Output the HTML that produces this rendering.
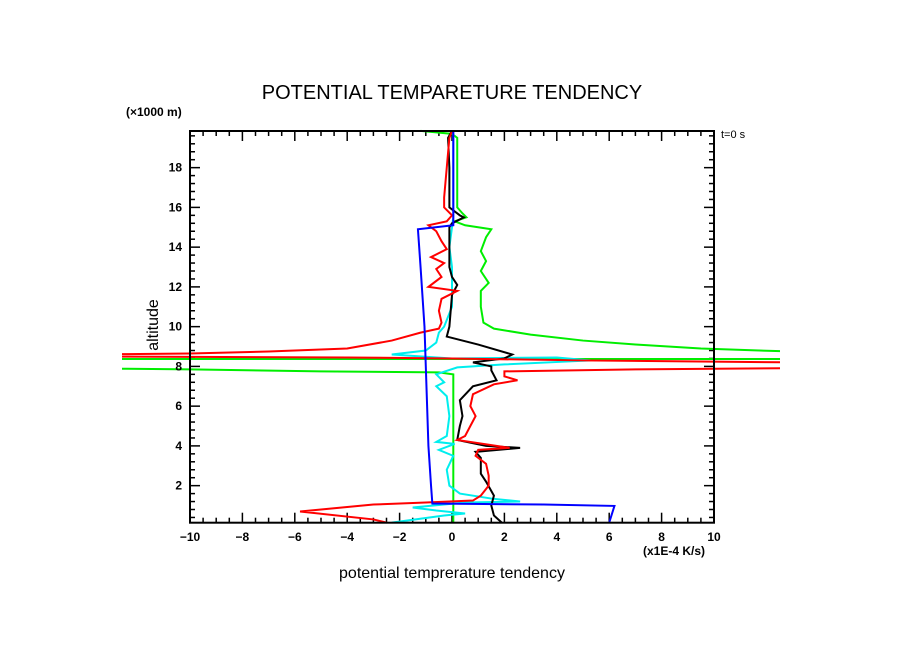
<!DOCTYPE html>
<html><head><meta charset="utf-8"><style>
html,body{margin:0;padding:0;background:#fff;}
svg{display:block;font-family:"Liberation Sans",sans-serif;}
</style></head><body>
<svg id="chart" width="904" height="654" viewBox="0 0 904 654" xmlns="http://www.w3.org/2000/svg">
<defs><clipPath id="clip"><rect x="122" y="0" width="658" height="654"/></clipPath></defs>
<text x="452" y="99" text-anchor="middle" font-size="20">POTENTIAL TEMPARETURE TENDENCY</text>
<text x="126" y="116" font-size="12" font-weight="bold">(×1000 m)</text>
<text x="721" y="138" font-size="11">t=0 s</text>
<text x="0" y="0" font-size="16" text-anchor="middle" transform="translate(158,325) rotate(-90)">altitude</text>
<text x="643" y="555" font-size="12" font-weight="bold">(x1E-4 K/s)</text>
<text x="452" y="578" text-anchor="middle" font-size="16">potential temprerature tendency</text>
<g id="ticks"></g>
<g id="series" clip-path="url(#clip)"></g>
<rect x="190" y="131" width="524" height="391.7" fill="none" stroke="#000" stroke-width="2"/>
<g id="labels"></g>
</svg>
<script>
const xTicks=[-10,-8,-6,-4,-2,0,2,4,6,8,10];
const yTicks=[2,4,6,8,10,12,14,16,18];
const blueX=[0.05,0.05,-1.3,-1.2,-1.05,-1.0,-0.95,-0.9,-0.8,-0.75,3.5,6.2,6.0];
const blueY=[19.85,15.1,14.9,13,10,8,6,4,2,1.1,1.05,0.98,0.14];
const greenX=[-1.2,0.0,0.2,0.2,0.4,0.55,0.1,0.5,1.5,1.3,1.1,1.3,1.1,1.4,1.1,1.1,1.2,1.6,3,5,7,9.5,14,14,-14,-14,-10,-5,-0.5,0.05,0.05];
const greenY=[19.85,19.7,19.5,16.0,15.7,15.5,15.3,15.1,14.9,14.5,13.8,13.3,12.8,12.2,11.8,11.0,10.2,9.9,9.6,9.3,9.1,8.9,8.7,8.37,8.37,7.9,7.85,7.75,7.7,7.6,0.14];
const redX=[0.0,-0.1,-0.2,-0.3,-0.3,0,-0.2,-0.9,-0.6,-0.4,-0.2,-0.8,-0.3,-0.6,-0.4,-0.9,0.2,-0.4,-0.5,-0.4,-0.5,-1.2,-2.3,-4,-7,-10,-14,-14,-4,0,5,14,14,7,2.0,2.0,2.5,1.6,0.8,0.7,0.9,0.7,0.5,0.2,2.2,1.0,0.9,1.3,1.4,1.4,1.1,0.8,-1,-3.0,-5.8,-3,-2.5];
const redY=[19.85,19.5,18,16.5,16,15.6,15.3,15.1,14.8,14.3,13.9,13.5,13.2,12.9,12.5,12.0,11.8,11.4,10.8,10.2,9.9,9.7,9.3,8.9,8.75,8.65,8.6,8.5,8.45,8.4,8.3,8.19,7.92,7.85,7.75,7.5,7.3,7.1,6.6,6.0,5.5,5.0,4.5,4.3,3.9,3.8,3.5,3.1,2.5,2.0,1.5,1.25,1.15,1.05,0.7,0.3,0.14];
const blackX=[0,-0.15,-0.1,-0.1,0.3,0.45,0.0,-0.1,-0.1,0,0.2,0.0,-0.1,-0.2,1,2.3,2.0,0.8,1.5,1.5,1.7,0.8,0.3,0.4,0.3,0.2,1.3,2.6,0.9,1.1,1.1,1.3,1.6,1.5,1.6,1.9];
const blackY=[19.85,19.5,18,16,15.6,15.5,15.2,15.0,13,12.5,12.1,11.6,10,9.5,9.1,8.6,8.4,8.2,8.0,7.8,7.3,7.0,6.3,5.5,5.0,4.3,4.0,3.9,3.7,3.4,2.6,2.2,1.5,1.0,0.5,0.14];
const cyanX=[0.05,0.05,0.0,-0.1,0,0,0,-0.3,-0.5,-0.6,-1.0,-2.3,0,4,5.3,2,0.2,-0.6,-0.3,-0.6,-0.2,-0.1,-0.2,-0.6,0.1,-0.5,0.05,-0.2,-0.1,0.3,1.5,2.6,0.5,-1.5,-0.6,0.5,-0.3,-2.3];
const cyanY=[19.85,15.5,15.0,14,13,12,11,10,9.7,9.2,8.8,8.6,8.4,8.45,8.3,8.1,7.95,7.6,7.2,7.0,6.5,5.5,4.5,4.2,4.1,3.8,3.5,2.8,2.0,1.6,1.35,1.2,1.15,0.9,0.75,0.6,0.5,0.14];
const X0=190,X1=714,Y0=525.4,YS=19.875;
function sx(v){return X0+(v+10)*(X1-X0)/20;}
function sy(v){return Y0-v*YS;}
const NS='http://www.w3.org/2000/svg';
const tg=document.getElementById('ticks');
const lg=document.getElementById('labels');
const sg=document.getElementById('series');
function line(g,x1,y1,x2,y2,name){const l=document.createElementNS(NS,'line');
l.setAttribute('x1',x1);l.setAttribute('y1',y1);l.setAttribute('x2',x2);l.setAttribute('y2',y2);
l.setAttribute('stroke','#000');l.setAttribute('stroke-width','1.5');


g.appendChild(l);}
const yb=522.7,yt=131;
for(let v=-10;v<=10.001;v+=0.5){const x=sx(v);const major=Math.abs(v-Math.round(v/2)*2)<0.01;const L=major?10:5;
line(tg,x,yb,x,yb-L,'x-tick');line(tg,x,yt,x,yt+L,'x-tick-top');}
for(let v=0.4;v<=19.8;v+=0.4){const y=sy(v);const major=Math.abs(v/2-Math.round(v/2))<0.01;const L=major?10:5;
line(tg,X0,y,X0+L,y,'y-tick');line(tg,X1,y,X1-L,y,'y-tick-right');}
xTicks.forEach(v=>{const t=document.createElementNS(NS,'text');t.setAttribute('x',sx(v));t.setAttribute('y',541);
t.setAttribute('text-anchor','middle');t.setAttribute('font-size','12');t.setAttribute('font-weight','bold');t.textContent=(v<0?'\u2212'+(-v):v);


lg.appendChild(t);});
yTicks.forEach(v=>{const t=document.createElementNS(NS,'text');t.setAttribute('x',182);t.setAttribute('y',sy(v)+4);
t.setAttribute('text-anchor','end');t.setAttribute('font-size','12');t.setAttribute('font-weight','bold');t.textContent=v;


lg.appendChild(t);});
function series(xs,ys,color,name){const p=document.createElementNS(NS,'polyline');
p.setAttribute('points',xs.map((x,i)=>sx(x)+','+sy(ys[i])).join(' '));
p.setAttribute('fill','none');p.setAttribute('stroke',color);p.setAttribute('stroke-width','2');


sg.appendChild(p);}
series(greenX,greenY,'#00ee00','green-series');
series(cyanX,cyanY,'#00eeee','cyan-series');
series(blackX,blackY,'#000','black-series');
series(redX,redY,'#ff0000','red-series');
series(blueX,blueY,'#0000ff','blue-series');
</script>
</body></html>
